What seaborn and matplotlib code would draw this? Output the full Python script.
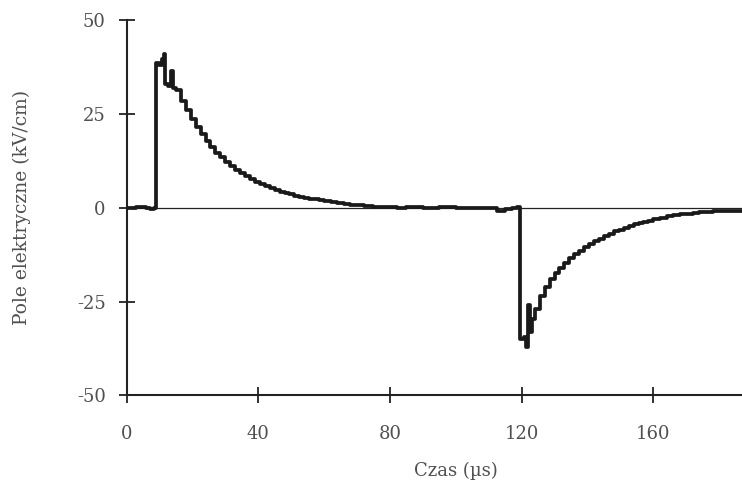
import numpy as np
import pandas as pd
import matplotlib
matplotlib.use('Agg')
import matplotlib.pyplot as plt
import seaborn as sns

# czas (us) i pole (kV/cm), przebieg schodkowy
czas = [0, 3, 6, 7, 8.5, 9.1, 10.0, 10.8, 11.3, 11.7, 12.5, 13.5, 14.2,
        15, 16.5, 18, 19.5, 21, 22.5, 24, 25.5, 27, 28.5, 30, 31.5, 33, 34.5,
        36, 37.5, 39, 40.5, 42, 43.5, 45, 46.5, 48, 49.5, 51, 52.5, 54, 55.5,
        57, 58.5, 60, 62, 64, 66, 68, 70, 72, 75, 78, 82,
        85, 90, 95, 100, 105, 110, 112.5, 115, 117, 118.5,
        119.4, 120.6, 121.2, 121.8, 122.4, 123.2, 124.2, 125.5, 127, 128.5,
        130, 131.5, 133, 134.5, 136, 137.5, 139, 140.5, 142, 143.5, 145,
        146.5, 148, 149.5, 151, 152.5, 154, 155.5, 157, 158.5, 160, 162,
        164, 166, 168, 170, 172, 174, 176, 178, 180, 183, 186, 190, 195, 200]
pole = [0, 0.1, -0.2, -0.4, -0.2, 38.5, 38, 39.5, 41, 33, 32.5, 36.5, 32,
        31.4, 28.5, 26.0, 23.6, 21.5, 19.6, 17.8, 16.2, 14.7, 13.4, 12.2, 11.1,
        10.1, 9.2, 8.4, 7.6, 6.9, 6.3, 5.7, 5.2, 4.7, 4.3, 3.9, 3.6, 3.2, 2.9,
        2.7, 2.4, 2.2, 2.0, 1.8, 1.5, 1.2, 1.0, 0.8, 0.6, 0.4, 0.3, 0.1, 0.0,
        0.1, 0.0, 0.1, 0.0, -0.1, -0.2, -1.0, -0.3, 0.0, 0.3,
        -35, -34.5, -37, -26, -33, -29.5, -27, -23.5, -21.2, -19,
        -17.5, -16, -14.7, -13.5, -12.4, -11.4, -10.5, -9.7, -8.9, -8.2, -7.5,
        -6.9, -6.3, -5.8, -5.3, -4.8, -4.4, -4.0, -3.7, -3.4, -3.1, -2.7,
        -2.3, -2.0, -1.8, -1.6, -1.4, -1.2, -1.1, -1.0, -0.9, -0.8, -0.8, -0.7, -0.7, -0.6]

xticks = [0, 40, 80, 120, 160]
yticks = [-50, -25, 0, 25, 50]

df = pd.DataFrame({'czas': czas, 'pole': pole})

sns.set_theme(style='white')
plt.rcParams['font.family'] = ['DejaVu Serif']
plt.rcParams['axes.unicode_minus'] = False

fig = plt.figure(figsize=(7.42, 4.83), dpi=100)
# os x siega poza prawa krawedz (oryginal jest przyciety)
ax = fig.add_axes([0.1705, 0.1812, 0.8875, 0.7774])

ax.axhline(0, color='#222222', lw=0.9, zorder=1)
sns.lineplot(data=df, x='czas', y='pole', ax=ax, color='#1a1a1a', lw=2.7,
             drawstyle='steps-post', estimator=None, sort=False, zorder=3)

ax.set_xlim(0, 200)
ax.set_ylim(-50, 50)
ax.set_xticks(xticks)
ax.set_yticks(yticks)

txt = '#505050'
ax.set_xlabel('Czas (µs)', fontsize=13, color=txt, labelpad=13)
ax.set_ylabel('Pole elektryczne (kV/cm)', fontsize=13.5, color=txt, labelpad=33)

for s in ['top', 'right']:
    ax.spines[s].set_visible(False)
for s in ['left', 'bottom']:
    ax.spines[s].set_color('#222222')
    ax.spines[s].set_linewidth(1.5)

ax.tick_params(axis='y', direction='inout', length=12, width=1.3,
               color='#222222', labelcolor=txt, labelsize=13, pad=9, left=True)
ax.tick_params(axis='x', direction='inout', length=11, width=1.3,
               color='#222222', labelcolor=txt, labelsize=13, pad=16, bottom=True)

fig.savefig('out.png', dpi=100)
